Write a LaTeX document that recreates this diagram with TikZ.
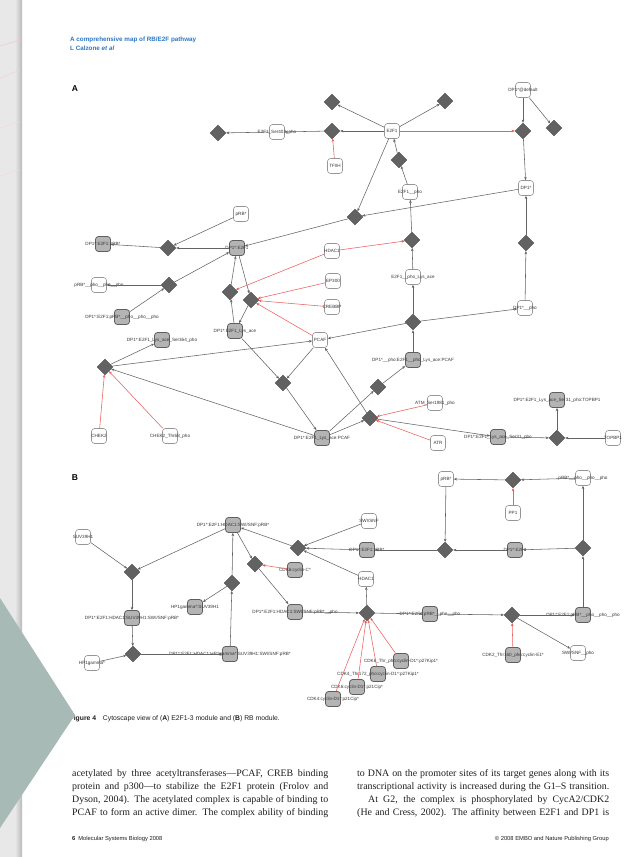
\documentclass[tikz,border=0pt]{standalone}
\usepackage{fontspec}
\setmainfont{Liberation Serif}
\setsansfont{Liberation Sans}
\usetikzlibrary{shapes.geometric,arrows.meta}

\definecolor{edgegray}{RGB}{100,100,100}
\definecolor{catred}{RGB}{238,95,95}
\definecolor{spborder}{RGB}{150,150,150}
\definecolor{cxfill}{RGB}{180,180,180}
\definecolor{cxborder}{RGB}{95,95,95}
\definecolor{rxfill}{RGB}{98,98,98}
\definecolor{rxborder}{RGB}{80,80,80}
\definecolor{labtext}{RGB}{55,55,55}
\definecolor{headblue}{RGB}{45,120,195}
\definecolor{bodytext}{RGB}{30,30,30}
\definecolor{tealpanel}{RGB}{168,186,182}
\definecolor{stripgray}{RGB}{232,232,232}

\newcommand{\labfont}{\sffamily\fontsize{4.6}{5}\selectfont}
\newcommand{\bodyfont}{\rmfamily\fontsize{9.9}{11}\selectfont}
\newcommand{\capfont}{\sffamily\fontsize{6.8}{8}\selectfont}
\newcommand{\footfont}{\sffamily\fontsize{5.8}{7}\selectfont}

\tikzset{
  sp/.style={draw=spborder, fill=white, rounded corners=3pt, minimum width=15pt,
    minimum height=15pt, inner sep=0pt, line width=0.6pt},
  cx/.style={draw=cxborder, fill=cxfill, rounded corners=3pt, minimum width=15pt,
    minimum height=15pt, inner sep=0pt, line width=0.8pt},
  rx/.style={diamond, draw=rxborder, fill=rxfill, minimum width=16pt,
    minimum height=16pt, inner sep=0pt, line width=0.4pt},
  lab/.style={font=\labfont, text=labtext, inner sep=0pt},
  flow/.style={draw=edgegray, line width=0.55pt, -{Stealth[length=3.2pt,width=2.6pt]}},
  cat/.style={draw=catred, line width=0.55pt, -{Stealth[length=3.2pt,width=2.6pt]}},
  panel/.style={font=\sffamily\bfseries\fontsize{8.5}{10}\selectfont, inner sep=0pt},
  bodyline/.style={font=\bodyfont, text=bodytext, anchor=base west, inner sep=0pt},
}

\begin{document}
\begin{tikzpicture}[x=1pt,y=-1pt]
\useasboundingbox (0,0) rectangle (630,857);

% paper and the desk strip at its left edge
\fill[white] (0,0) rectangle (630,857);
\fill[stripgray] (0,0) rectangle (22,857);
\shade[left color=stripgray, right color=gray!55] (15,0) rectangle (22,857);
\draw[catred!35, line width=0.6pt] (0,46) -- (20,40);
\draw[catred!30, line width=0.5pt] (0,78) -- (20,70);
\draw[catred!25, line width=0.5pt] (0,128) -- (20,122);
\draw[catred!25, line width=0.5pt] (0,176) -- (20,170);

% running header
\node[anchor=base west, inner sep=0pt, text=headblue, font=\sffamily\bfseries\fontsize{6.3}{7}\selectfont]
  (head1) at (70,41) {A comprehensive map of RB/E2F pathway};
\node[anchor=base west, inner sep=0pt, text=headblue, font=\sffamily\bfseries\fontsize{6.3}{7}\selectfont]
  (head2) at (70,50) {L Calzone \textit{et al}};

% ================= panel A =================
\node[panel] (labA) at (75,89) {A};

% species
\node[sp, label={[lab]center:E2F1}] (E2F1) at (392,131) {};
\node[sp, label={[lab]center:DP1*@default}] (DP1def) at (523,90) {};
\node[sp, label={[lab]center:E2F1\_Ser403\_pho}] (E2F1ser) at (277,132) {};
\node[sp, label={[lab]center:TFIIH}] (TFIIH) at (335,166) {};
\node[sp, label={[lab]center:DP1*}] (DP1star) at (526,188) {};
\node[sp, label={[lab]center:E2F1\_\_pho}] (E2F1pho) at (410,192) {};
\node[sp, label={[lab]center:pRB*}] (pRB) at (241,214) {};
\node[sp, label={[lab]center:HDAC1}] (HDAC1a) at (332,251) {};
\node[sp, label={[lab]center:EP300}] (EP300) at (333,281) {};
\node[sp, label={[lab]center:CREBBP}] (CREBBP) at (332,307) {};
\node[sp, label={[lab]center:E2F1\_\_pho\_Lys\_ace}] (E2F1phoLys) at (413,277) {};
\node[sp, label={[lab]center:DP1*\_\_pho}] (DP1pho) at (525,308) {};
\node[sp, label={[lab]center:PCAF}] (PCAF) at (320,340) {};
\node[sp, label={[lab]center:pRB*\_\_pho\_\_pho\_\_pho}] (pRBppp) at (99,285) {};
\node[sp, label={[lab]center:CHEK2}] (CHEK2) at (99,436) {};
\node[sp, label={[lab]center:CHEK2\_Thr68\_pho}] (CHEK2T) at (170,436) {};
\node[sp, label={[lab]center:ATM\_Ser1981\_pho}] (ATM) at (435,403) {};
\node[sp, label={[lab]center:ATR}] (ATR) at (438,443) {};
\node[sp, label={[lab]center:TOPBP1}] (TOPBP1) at (613,438) {};

% complexes
\node[cx, label={[lab]center:DP1*:E2F1}] (DE) at (237,248) {};
\node[cx, label={[lab]center:DP1*:E2F1:pRB*}] (DEpRB) at (103,244) {};
\node[cx, label={[lab]center:DP1*:E2F1:pRB*\_\_pho\_\_pho\_\_pho}] (DEpRBppp) at (122,317) {};
\node[cx, label={[lab]center:DP1*:E2F1\_Lys\_ace}] (DElys) at (235,331) {};
\node[cx, label={[lab]center:DP1*:E2F1\_Lys\_ace\_Ser364\_pho}] (DElysSer) at (162,340) {};
\node[cx, label={[lab]center:DP1*:E2F1\_Lys\_ace:PCAF}] (DElysPCAF) at (322,438) {};
\node[cx, label={[lab]center:DP1*\_\_pho:E2F1\_\_pho\_Lys\_ace:PCAF}] (DEphoPCAF) at (413,360) {};
\node[cx, label={[lab]center:DP1*:E2F1\_Lys\_ace\_Ser31\_pho}] (DESer31) at (498,437) {};
\node[cx, label={[lab]center:DP1*:E2F1\_Lys\_ace\_Ser31\_pho:TOPBP1}] (DESer31TOP) at (557,400) {};

% reactions
\node[rx] (r1) at (332,102) {};
\node[rx] (r2) at (445,101) {};
\node[rx] (r3) at (332,131) {};
\node[rx] (r4) at (218,133) {};
\node[rx] (r5) at (523,131) {};
\node[rx] (r6) at (554,128) {};
\node[rx] (r7) at (399,160) {};
\node[rx] (r8) at (355,217) {};
\node[rx] (r9) at (168,248) {};
\node[rx] (r10) at (412,240) {};
\node[rx] (r11) at (526,243) {};
\node[rx] (r12) at (169,285) {};
\node[rx] (r13) at (230,292) {};
\node[rx] (r14) at (251,300) {};
\node[rx] (r15) at (413,322) {};
\node[rx] (r16) at (105,367) {};
\node[rx] (r17) at (283,383) {};
\node[rx] (r18) at (378,387) {};
\node[rx] (r19) at (370,418) {};
\node[rx] (r20) at (557,438) {};

% transitions
\path[flow] (E2F1) edge (r1) (E2F1) edge (r2) (E2F1) edge (r3)
  (r3) edge (E2F1ser) (E2F1ser) edge (r4)
  (DP1def) edge (r5) (DP1def) edge (r6) (r5) edge (DP1star)
  (E2F1pho) edge (r7) (r7) edge (E2F1)
  (E2F1) edge (r8) (DP1star) edge (r8) (r8) edge (DE)
  (DE) edge (r9) (pRB) edge (r9) (r9) edge (DEpRB)
  (E2F1phoLys) edge (r10) (r10) edge (E2F1pho)
  (DP1pho) edge (r11) (r11) edge (DP1star)
  (DEpRBppp) edge (r12) (r12) edge (pRBppp) (r12) edge (DE)
  (DElys) edge (r13) (r13) edge (DE)
  (DE) edge (r14) (r14) edge (DElys)
  (DEphoPCAF) edge (r15) (r15) edge (E2F1phoLys) (r15) edge (DP1pho) (r15) edge (PCAF)
  (DElysPCAF) edge (r16) (r16) edge (DElysSer) (r16) edge (PCAF)
  (DElys) edge (r17) (PCAF) edge (r17) (r17) edge (DElysPCAF)
  (DElysPCAF) edge (r18) (r18) edge (DEphoPCAF)
  (DElysPCAF) edge (r19) (r19) edge (DESer31) (r19) edge (PCAF)
  (DESer31) edge (r20) (TOPBP1) edge (r20) (r20) edge (DESer31TOP);

% catalysis
\path[cat] (TFIIH) edge (r3) (E2F1) edge (r5) (HDAC1a) edge (r10) (HDAC1a) edge (r13)
  (EP300) edge (r14) (CREBBP) edge (r14) (PCAF) edge (r14)
  (CHEK2) edge (r16) (CHEK2T) edge (r16) (ATM) edge (r19) (ATR) edge (r19);

% ================= panel B =================
\node[panel] (labB) at (75,478) {B};

% species
\node[sp, label={[lab]center:SUV39H1}] (SUV) at (83,537) {};
\node[sp, label={[lab]center:SWI/SNF}] (SWISNF) at (369,521) {};
\node[sp, label={[lab]center:HDAC1}] (HDAC1b) at (366,579) {};
\node[sp, label={[lab]center:pRB*}] (pRBs) at (446,479) {};
\node[sp, label={[lab]center:PP1}] (PP1) at (513,513) {};
\node[sp, label={[lab]center:pRB*\_\_pho\_\_pho\_\_pho}] (pRBppp2) at (583,478) {};
\node[sp, label={[lab]center:SWI/SNF\_\_pho}] (SWISNFpho) at (578,653) {};
\node[sp, label={[lab]center:HP1gamma*}] (HP1g) at (92,663) {};

% complexes
\node[cx, label={[lab]center:DP1*:E2F1:HDAC1:SWI/SNF:pRB*}] (C1) at (233,525) {};
\node[cx, label={[lab]center:CDK6:cyclin-C*}] (CDK6C) at (295,570) {};
\node[cx, label={[lab]center:HP1gamma*:SUV39H1}] (HPSUV) at (195,607) {};
\node[cx, label={[lab]center:DP1*:E2F1:HDAC1:SUV39H1:SWI/SNF:pRB*}] (C2) at (132,618) {};
\node[cx, label={[lab]center:DP1*:E2F1:HDAC1:HP1gamma*:SUV39H1:SWI/SNF:pRB*}] (C3) at (230,654) {};
\node[cx, label={[lab]center:DP1*:E2F1:HDAC1:SWI/SNF:pRB*\_\_pho}] (C1pho) at (295,612) {};
\node[cx, label={[lab]center:DP1*:E2F1:pRB*}] (DEpRB2) at (367,550) {};
\node[cx, label={[lab]center:DP1*:E2F1}] (DE2) at (515,550) {};
\node[cx, label={[lab]center:DP1*:E2F1:pRB*\_\_pho\_\_pho}] (C4) at (430,614) {};
\node[cx, label={[lab]center:DP1*:E2F1:pRB*\_\_pho\_\_pho\_\_pho}] (C5) at (583,615) {};
\node[cx, label={[lab]center:CDK2\_Thr160\_pho:cyclin-E1*}] (CDK2E) at (513,655) {};
\node[cx, label={[lab]center:CDK6\_Thr\_pho:cyclin-D1*:p27Kip1*}] (CDK6D) at (401,661) {};
\node[cx, label={[lab]center:CDK4\_Thr172\_pho:cyclin-D1*:p27Kip1*}] (CDK4T) at (378,674) {};
\node[cx, label={[lab]center:CDK6:cyclin-D1*:p21Cip*}] (CDK6Dp) at (357,687) {};
\node[cx, label={[lab]center:CDK4:cyclin-D1*:p21Cip*}] (CDK4p) at (333,699) {};

% reactions
\node[rx] (s1) at (132,572) {};
\node[rx] (s2) at (298,548) {};
\node[rx] (s3) at (255,564) {};
\node[rx] (s4) at (232,583) {};
\node[rx] (s5) at (133,654) {};
\node[rx] (s6) at (367,613) {};
\node[rx] (s7) at (512,615) {};
\node[rx] (s8) at (583,548) {};
\node[rx] (s9) at (445,550) {};
\node[rx] (s10) at (513,480) {};

% transitions
\path[flow] (SUV) edge (s1) (C1) edge (s1) (s1) edge (C2)
  (SWISNF) edge (s2) (DEpRB2) edge (s2) (HDAC1b) edge (s2) (s2) edge (C1)
  (C1) edge (s3) (s3) edge (C1pho)
  (C3) edge (s4) (s4) edge (C1) (s4) edge (HPSUV)
  (C2) edge (s5) (HP1g) edge (s5) (s5) edge (C3)
  (C1pho) edge (s6) (s6) edge (C4) (s6) edge (HDAC1b)
  (C4) edge (s7) (s7) edge (C5) (s7) edge (SWISNFpho)
  (C5) edge (s8) (s8) edge (DE2) (s8) edge (pRBppp2)
  (DE2) edge (s9) (pRBs) edge (s9) (s9) edge (DEpRB2)
  (pRBppp2) edge (s10) (s10) edge (pRBs);

% catalysis
\path[cat] (CDK6C) edge (s3) (CDK6D) edge (s6) (CDK4T) edge (s6) (CDK6Dp) edge (s6)
  (CDK4p) edge (s6) (CDK2E) edge (s7) (PP1) edge (s10);

% ================= caption and text =================
\node[anchor=base west, inner sep=0pt, font=\capfont, text=bodytext] (cap) at (69.5,720)
  {\textbf{Figure 4}\quad Cytoscape view of (\textbf{A}) E2F1-3 module and (\textbf{B}) RB module.};

\node[bodyline] (l1) at (72,776) {\makebox[256pt][s]{acetylated by three acetyltransferases—PCAF, CREB binding}};
\node[bodyline] (l2) at (72,789) {\makebox[256pt][s]{protein and p300—to stabilize the E2F1 protein (Frolov and}};
\node[bodyline] (l3) at (72,802) {\makebox[256pt][s]{Dyson, 2004). The acetylated complex is capable of binding to}};
\node[bodyline] (l4) at (72,815) {\makebox[256pt][s]{PCAF to form an active dimer. The complex ability of binding}};

\node[bodyline] (m1) at (357,776) {\makebox[252pt][s]{to DNA on the promoter sites of its target genes along with its}};
\node[bodyline] (m2) at (357,789) {\makebox[252pt][s]{transcriptional activity is increased during the G1–S transition.}};
\node[bodyline] (m3) at (368,802) {\makebox[241pt][s]{At G2, the complex is phosphorylated by CycA2/CDK2}};
\node[bodyline] (m4) at (357,815) {\makebox[252pt][s]{(He and Cress, 2002). The affinity between E2F1 and DP1 is}};

\node[anchor=base west, inner sep=0pt, font=\footfont, text=bodytext] (foot1) at (72,840)
  {\textbf{6}\enspace Molecular Systems Biology 2008};
\node[anchor=base east, inner sep=0pt, font=\footfont, text=bodytext] (foot2) at (609,840)
  {© 2008 EMBO and Nature Publishing Group};

% teal card lying over the lower left corner
\fill[tealpanel] (0,598) -- (75,715) -- (0,828) -- cycle;
\end{tikzpicture}
\end{document}
